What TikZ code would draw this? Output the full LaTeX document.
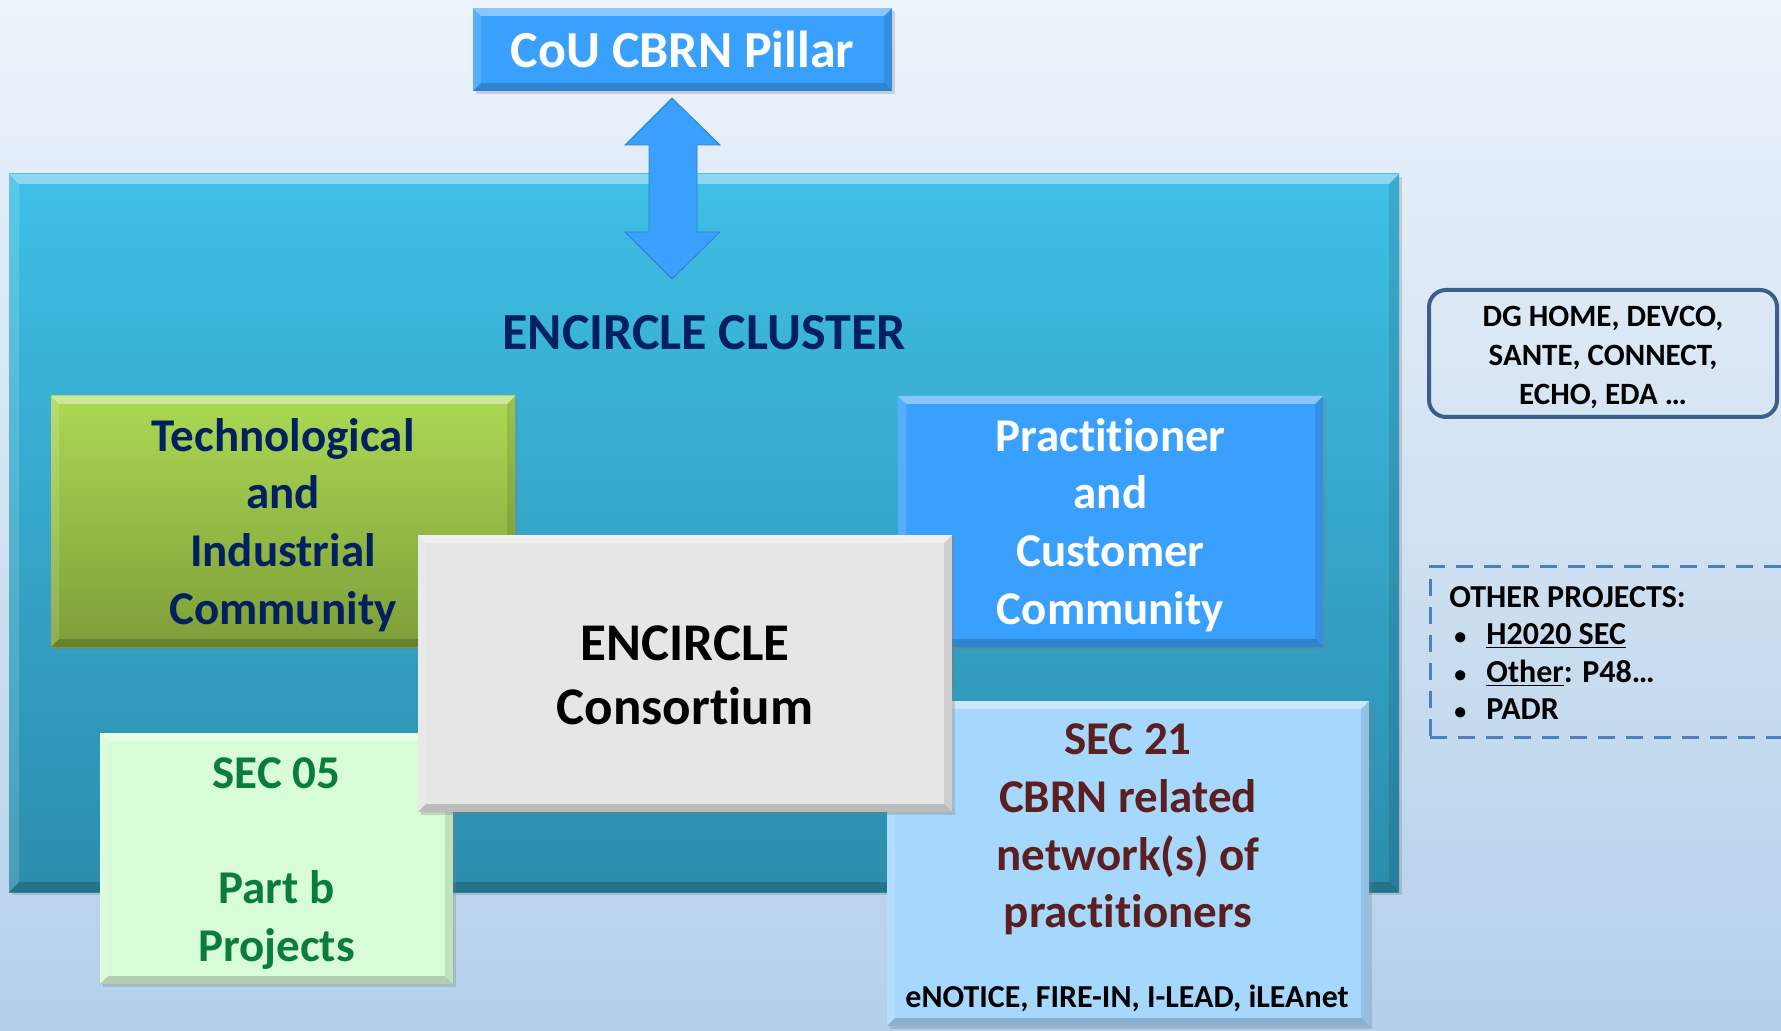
\documentclass[tikz,border=0pt]{standalone}
\usepackage{fontspec}
\setmainfont{Carlito}[Ligatures=NoCommon]
\usetikzlibrary{shadows}

\definecolor{bgtop}{HTML}{EDF3FA}
\definecolor{bgbot}{HTML}{B4D0EA}
\definecolor{clustertop}{HTML}{3FBFE7}
\definecolor{clusterbot}{HTML}{2B8DAC}
\definecolor{pillarblue}{HTML}{3AA0FE}
\definecolor{techtop}{HTML}{ABD954}
\definecolor{techbot}{HTML}{7E9E38}
\definecolor{consgray}{HTML}{E6E6E6}
\definecolor{secgreen}{HTML}{D8FCD5}
\definecolor{secblue}{HTML}{A6D8FE}
\definecolor{navy}{HTML}{002060}
\definecolor{darkgreen}{HTML}{0A7D3B}
\definecolor{maroon}{HTML}{5B1F1F}
\definecolor{dgline}{HTML}{3B5E8E}
\definecolor{dashline}{HTML}{4F7FC1}

\newcommand{\smallbullet}{\makebox[18.5pt][l]{\hspace{2.5pt}\fontsize{12pt}{12pt}\selectfont •}}

\begin{document}
\begin{tikzpicture}[x=0.5pt,y=-0.5pt,
  bevelbox/.style={path picture={
    \fill[white,opacity=.4] (path picture bounding box.north west) -- (path picture bounding box.north east)
      -- ([shift={(-#1,-#1)}]path picture bounding box.north east) -- ([shift={(#1,-#1)}]path picture bounding box.north west) -- cycle;
    \fill[white,opacity=.15] (path picture bounding box.north west) -- ([shift={(#1,-#1)}]path picture bounding box.north west)
      -- ([shift={(#1,#1)}]path picture bounding box.south west) -- (path picture bounding box.south west) -- cycle;
    \fill[black,opacity=.18] (path picture bounding box.south west) -- (path picture bounding box.south east)
      -- ([shift={(-#1,#1)}]path picture bounding box.south east) -- ([shift={(#1,#1)}]path picture bounding box.south west) -- cycle;
    \fill[black,opacity=.1] (path picture bounding box.north east) -- (path picture bounding box.south east)
      -- ([shift={(-#1,#1)}]path picture bounding box.south east) -- ([shift={(-#1,-#1)}]path picture bounding box.north east) -- cycle;
  }},
  bevelbox/.default=4pt,
  box/.style={inner sep=0pt, drop shadow={opacity=.3, shadow xshift=1.5pt, shadow yshift=-1.5pt}},
  boxtext/.style={inner sep=0pt, align=center},
  bigtext/.style={boxtext, font=\fontsize{23.5pt}{28.8pt}\selectfont\bfseries},
  hugetext/.style={boxtext, font=\fontsize{26pt}{32pt}\selectfont\bfseries},
]
\useasboundingbox (0,0) rectangle (1781,1031);
\fill[top color=bgtop, bottom color=bgbot] (0,0) rectangle (1781,1031);

% the cluster
\node[box, bevelbox=5pt, top color=clustertop, bottom color=clusterbot, minimum width=695pt, minimum height=359pt] (cluster) at (704,533) {};
\node[text=navy, hugetext] (clustertitle) at (704,333) {ENCIRCLE CLUSTER};

% pillar and link
\node[box, bevelbox, fill=pillarblue, minimum width=209.5pt, minimum height=41.5pt] (pillar) at (682.5,49.5) {};
\node[text=white, hugetext] (pillartxt) at (pillar.center) {CoU CBRN Pillar};
\coordinate (linktop) at (672,98);
\fill[pillarblue, draw=pillarblue!80!black, line width=.4pt] (linktop) -- ++(48,47) -- ++(-23,0) -- ++(0,87) -- ++(23,0) -- ++(-48,47)
  -- ++(-47,-47) -- ++(24,0) -- ++(0,-87) -- ++(-24,0) -- cycle;

% communities
\node[box, bevelbox, top color=techtop, bottom color=techbot, minimum width=232pt, minimum height=125.5pt] (tech) at (283,521.5) {};
\node[text=navy, bigtext] (techtxt) at ([yshift=-1.7pt]tech.center) {Technological\\and\\Industrial\\Community};
\node[box, bevelbox, fill=pillarblue, minimum width=212.5pt, minimum height=125.5pt] (pract) at (1110.5,521.5) {};
\node[text=white, bigtext] (practtxt) at ([yshift=-1.7pt]pract.center) {Practitioner\\and\\Customer\\Community};

% calls
\node[box, bevelbox, fill=secgreen, minimum width=176.5pt, minimum height=125.5pt] (sec05) at (276.5,858.5) {};
\node[text=darkgreen, bigtext] (sec05txt) at ([yshift=-2.5pt]sec05.center) {SEC 05\\[29pt]Part b\\Projects};
\node[box, bevelbox, fill=secblue, minimum width=241pt, minimum height=162.5pt] (sec21) at (1128,863.5) {};
\node[text=maroon, bigtext] (sec21txt) at (1128,829.5) {SEC 21\\CBRN related\\network(s) of\\practitioners};
\node[boxtext, font=\fontsize{16pt}{19pt}\selectfont\bfseries] (sec21list) at (1127,998.5) {eNOTICE, FIRE-IN, I-LEAD, iLEAnet};

% consortium on top
\node[box, bevelbox, fill=consgray, minimum width=267pt, minimum height=138.5pt] (cons) at (685,673.5) {};
\node[boxtext, font=\fontsize{26.5pt}{32pt}\selectfont\bfseries] (constxt) at ([yshift=-0.9pt]cons.center) {ENCIRCLE\\Consortium};

% outside the cluster
\node[draw=dgline, line width=2pt, rounded corners=8.5pt, minimum width=174pt, minimum height=63.5pt] (dg) at (1603,353.5) {};
\node[boxtext, font=\fontsize{15.5pt}{19.3pt}\selectfont\bfseries] (dgtxt) at ([yshift=-2pt]dg.center) {DG HOME, DEVCO,\\SANTE, CONNECT,\\ECHO, EDA …};
\node[draw=dashline, dash pattern=on 8.5pt off 5.5pt, line width=1.5pt, minimum width=185pt, minimum height=85.5pt] (other) at (1615,651.5) {};
\node[anchor=west, align=left, inner sep=0pt, font=\fontsize{16pt}{18.75pt}\selectfont\bfseries] (otherlist) at (1449,653) {OTHER PROJECTS:\\
  \smallbullet\underline{H2020 SEC}\\
  \smallbullet\underline{Other}: P48…\\
  \smallbullet PADR};
\end{tikzpicture}
\end{document}
